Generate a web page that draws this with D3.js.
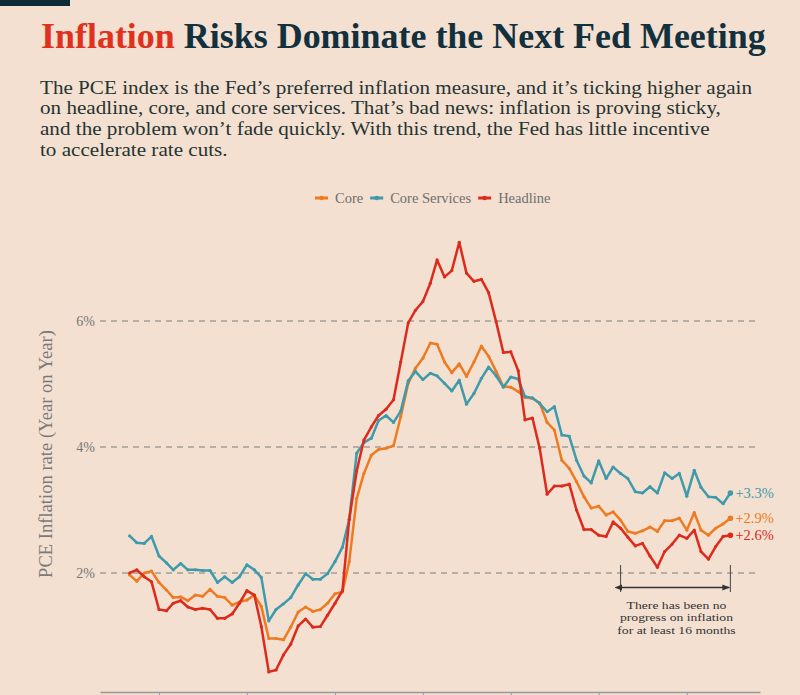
<!DOCTYPE html>
<html>
<head>
<meta charset="utf-8">
<script src="https://cdn.jsdelivr.net/npm/d3@7"></script>
<style>
  body { margin: 0; background: #f3e0d0; }
  svg { display: block; }
</style>
</head>
<body>
<div id="chart"></div>
<script>
// monthly PCE, year on year %, Sep 2018 .. Jul 2025
var firstMonth = "2018-09", lastMonth = "2025-07";
var headline = [2.00, 2.05, 1.94, 1.86,
  1.42, 1.40, 1.52, 1.56, 1.46, 1.42, 1.44, 1.42, 1.28, 1.28, 1.35, 1.52,
  1.72, 1.65, 1.15, 0.43, 0.46, 0.70, 0.87, 1.16, 1.27, 1.14, 1.15, 1.33,
  1.52, 1.72, 2.85, 3.62, 4.11, 4.32, 4.50, 4.60, 4.75, 5.35, 5.97, 6.17,
  6.31, 6.60, 6.97, 6.70, 6.80, 7.25, 6.76, 6.63, 6.66, 6.45, 5.99, 5.50,
  5.51, 5.21, 4.43, 4.46, 3.98, 3.25, 3.38, 3.38, 3.41, 3.00, 2.69, 2.69,
  2.60, 2.58, 2.81, 2.71, 2.57, 2.43, 2.47, 2.27, 2.09, 2.34, 2.46, 2.60,
  2.55, 2.68, 2.34, 2.22, 2.42, 2.58, 2.60];
var core = [1.97, 1.87, 2.00, 2.03,
  1.85, 1.73, 1.61, 1.62, 1.56, 1.65, 1.63, 1.74, 1.63, 1.61, 1.49, 1.54,
  1.57, 1.65, 1.47, 0.96, 0.96, 0.94, 1.14, 1.38, 1.46, 1.39, 1.42, 1.52,
  1.67, 1.70, 2.18, 3.18, 3.58, 3.87, 3.96, 3.98, 4.02, 4.48, 5.01, 5.25,
  5.41, 5.65, 5.63, 5.35, 5.18, 5.32, 5.12, 5.35, 5.60, 5.44, 5.20, 4.96,
  4.95, 4.88, 4.79, 4.77, 4.70, 4.39, 4.27, 3.79, 3.66, 3.45, 3.21, 3.03,
  3.06, 2.92, 2.97, 2.84, 2.66, 2.63, 2.67, 2.73, 2.66, 2.83, 2.83, 2.87,
  2.68, 2.96, 2.68, 2.60, 2.71, 2.78, 2.87];
var coreServices = [2.59, 2.48, 2.47, 2.58,
  2.27, 2.16, 2.05, 2.15, 2.05, 2.05, 2.04, 2.04, 1.85, 1.94, 1.85, 1.94,
  2.13, 2.05, 1.93, 1.24, 1.42, 1.51, 1.61, 1.81, 1.99, 1.90, 1.90, 1.99,
  2.18, 2.41, 2.85, 3.90, 4.07, 4.14, 4.42, 4.50, 4.39, 4.57, 5.05, 5.20,
  5.07, 5.17, 5.13, 5.01, 4.89, 5.06, 4.68, 4.85, 5.09, 5.27, 5.13, 4.95,
  5.11, 5.08, 4.80, 4.78, 4.69, 4.56, 4.64, 4.19, 4.17, 3.79, 3.54, 3.43,
  3.78, 3.50, 3.68, 3.58, 3.50, 3.29, 3.27, 3.37, 3.27, 3.59, 3.50, 3.58,
  3.22, 3.63, 3.36, 3.21, 3.20, 3.10, 3.27];
var seriesNames = ["Core", "Core Services", "Headline"];
var seriesColors = ["#ee7b22", "#3f9aab", "#dc2b1c"];
var yTicks = [2, 4, 6];
var subtitleLines = [
  "The PCE index is the Fed\u2019s preferred inflation measure, and it\u2019s ticking higher again",
  "on headline, core, and core services. That\u2019s bad news: inflation is proving sticky,",
  "and the problem won\u2019t fade quickly. With this trend, the Fed has little incentive",
  "to accelerate rate cuts."];
var noteLines = ["There has been no", "progress on inflation", "for at least 16 months"];
var noteStart = "2024-04", noteEnd = "2025-07";

var W = 800, H = 695;
var serif = "'Liberation Serif', Georgia, serif";
var parseMonth = d3.timeParse("%Y-%m");
var months = d3.timeMonths(parseMonth(firstMonth), d3.timeMonth.offset(parseMonth(lastMonth), 1));

var svg = d3.select("#chart").append("svg")
  .attr("width", W).attr("height", H)
  .style("background", "#f3e0d0");

// squeeze or grow a text so it spans a given width
function fit(sel, width) {
  var fs = parseFloat(sel.attr("font-size"));
  var w = sel.node().getComputedTextLength();
  sel.attr("font-size", (fs * width / w).toFixed(2));
  return +sel.attr("font-size");
}

// block of lines drawn at a small size, then stretched wider (georgia-ish look)
function textBlock(lines, opt) {
  var nodes = lines.map(function(l, i) {
    return svg.append("text")
      .attr("x", opt.x).attr("y", opt.y + i * opt.lh)
      .attr("text-anchor", opt.anchor || "start")
      .attr("font-family", serif).attr("font-size", opt.fs)
      .attr("fill", opt.color).text(l);
  });
  var ratio = opt.width / nodes[opt.ref].node().getComputedTextLength();
  nodes.forEach(function(t) {
    t.attr("textLength", (t.node().getComputedTextLength() * ratio).toFixed(1))
      .attr("lengthAdjust", "spacingAndGlyphs");
  });
}

svg.append("rect").attr("x", 0).attr("y", 0).attr("width", 70).attr("height", 6).attr("fill", "#0f2b38");

var title = svg.append("text")
  .attr("x", 41).attr("y", 48)
  .attr("font-family", serif).attr("font-weight", "bold").attr("font-size", 30)
  .attr("fill", "#12303d");
title.append("tspan").attr("fill", "#e0301e").text("Inflation");
title.append("tspan").text(" Risks Dominate the Next Fed Meeting");
fit(title, 725);

textBlock(subtitleLines, { x: 40, y: 93.5, lh: 20.7, fs: 17.8, color: "#263434", ref: 0, width: 712 });

// scales
var x = d3.scaleTime()
  .domain([d3.timeMonth.offset(months[0], -4), d3.timeMonth.offset(months[months.length - 1], 4)])
  .range([100, 760]);
var y = d3.scaleLinear().domain([2, 6]).range([573, 321]);

// grid + y labels
var grid = svg.append("g").selectAll("g").data(yTicks).enter().append("g");
grid.append("line")
  .attr("x1", 100).attr("x2", 760)
  .attr("y1", function(d) { return y(d); }).attr("y2", function(d) { return y(d); })
  .attr("stroke", "#7d7d7d").attr("stroke-width", 1).attr("stroke-dasharray", "6,5");
grid.append("text")
  .attr("x", 95).attr("y", function(d) { return y(d); })
  .attr("dy", "0.35em").attr("text-anchor", "end")
  .attr("font-family", serif).attr("font-size", 14).attr("fill", "#777")
  .text(function(d) { return d + "%"; });

var yl = svg.append("text")
  .attr("transform", "translate(52,454) rotate(-90)")
  .attr("text-anchor", "middle")
  .attr("font-family", serif).attr("font-size", 17).attr("fill", "#7a7a7a")
  .text("PCE Inflation rate (Year on Year)");
fit(yl, 248);

// x axis, labels fall below the visible frame
var xAxis = svg.append("g").attr("transform", "translate(0,692)")
  .call(d3.axisBottom(x).ticks(d3.timeYear.every(1)).tickSizeOuter(0).tickFormat(""));
xAxis.select(".domain").attr("stroke", "#999").attr("stroke-width", 1.5);
xAxis.selectAll(".tick line").attr("stroke", "#999");

// lines
var data = [core, coreServices, headline].map(function(vals, k) {
  return { name: seriesNames[k], color: seriesColors[k],
    values: vals.map(function(v, i) { return { date: months[i], v: v }; }) };
});
var line = d3.line().x(function(d) { return x(d.date); }).y(function(d) { return y(d.v); });

var series = svg.append("g").selectAll("g").data(data).enter().append("g");
series.append("path")
  .attr("d", function(d) { return line(d.values); })
  .attr("fill", "none").attr("stroke", function(d) { return d.color; })
  .attr("stroke-width", 2.5).attr("stroke-linejoin", "round");
series.selectAll("circle").data(function(d) { return d.values.map(function(p) { p.color = d.color; return p; }); })
  .enter().append("circle")
  .attr("cx", function(d) { return x(d.date); }).attr("cy", function(d) { return y(d.v); })
  .attr("r", 1.6).attr("fill", function(d) { return d.color; });
series.append("circle")
  .attr("cx", function(d) { return x(d.values[d.values.length - 1].date); })
  .attr("cy", function(d) { return y(d.values[d.values.length - 1].v); })
  .attr("r", 2.8).attr("fill", function(d) { return d.color; });
series.append("text")
  .attr("x", function(d) { return x(d.values[d.values.length - 1].date) + 5; })
  .attr("y", function(d) { return y(d.values[d.values.length - 1].v); })
  .attr("dy", "0.35em")
  .attr("font-family", serif).attr("font-size", 14.5)
  .attr("fill", function(d) { return d.color; })
  .text(function(d) { return "+" + d3.format(".1f")(d.values[d.values.length - 1].v) + "%"; });

// legend
var lg = svg.append("g").attr("transform", "translate(315,198)");
var cx = 0;
data.forEach(function(d) {
  var g = lg.append("g").attr("transform", "translate(" + cx + ",0)");
  g.append("line").attr("x1", 0).attr("x2", 13).attr("y1", 0).attr("y2", 0)
    .attr("stroke", d.color).attr("stroke-width", 3);
  g.append("circle").attr("cx", 6.5).attr("cy", 0).attr("r", 2.2).attr("fill", d.color);
  var t = g.append("text").attr("x", 20).attr("dy", "0.35em")
    .attr("font-family", serif).attr("font-size", 14.5).attr("fill", "#6e6e6e").text(d.name);
  cx += 20 + t.node().getComputedTextLength() + 7;
});

// annotation bracket
var x0 = x(parseMonth(noteStart)), x1 = x(parseMonth(noteEnd));
var defs = svg.append("defs");
["s", "e"].forEach(function(k) {
  defs.append("marker").attr("id", "arr-" + k)
    .attr("viewBox", "0 0 10 10").attr("refX", k == "e" ? 9 : 1).attr("refY", 5)
    .attr("markerWidth", 6).attr("markerHeight", 6).attr("orient", "auto-start-reverse")
    .append("path").attr("d", "M0,1 L10,5 L0,9 Z").attr("fill", "#333");
});
var ann = svg.append("g").attr("stroke", "#444").attr("stroke-width", 1);
[x0, x1].forEach(function(xx) {
  ann.append("line").attr("x1", xx).attr("x2", xx).attr("y1", 565).attr("y2", 592);
});
ann.append("line").attr("x1", x0 + 1).attr("x2", x1 - 1).attr("y1", 587.5).attr("y2", 587.5)
  .attr("stroke", "#333").attr("stroke-width", 1.3)
  .attr("marker-start", "url(#arr-s)").attr("marker-end", "url(#arr-e)");
textBlock(noteLines, { x: (x0 + x1) / 2 + 1, y: 608.5, lh: 12.7, fs: 11, anchor: "middle",
  color: "#333", ref: 1, width: 113 });
</script>
</body>
</html>
